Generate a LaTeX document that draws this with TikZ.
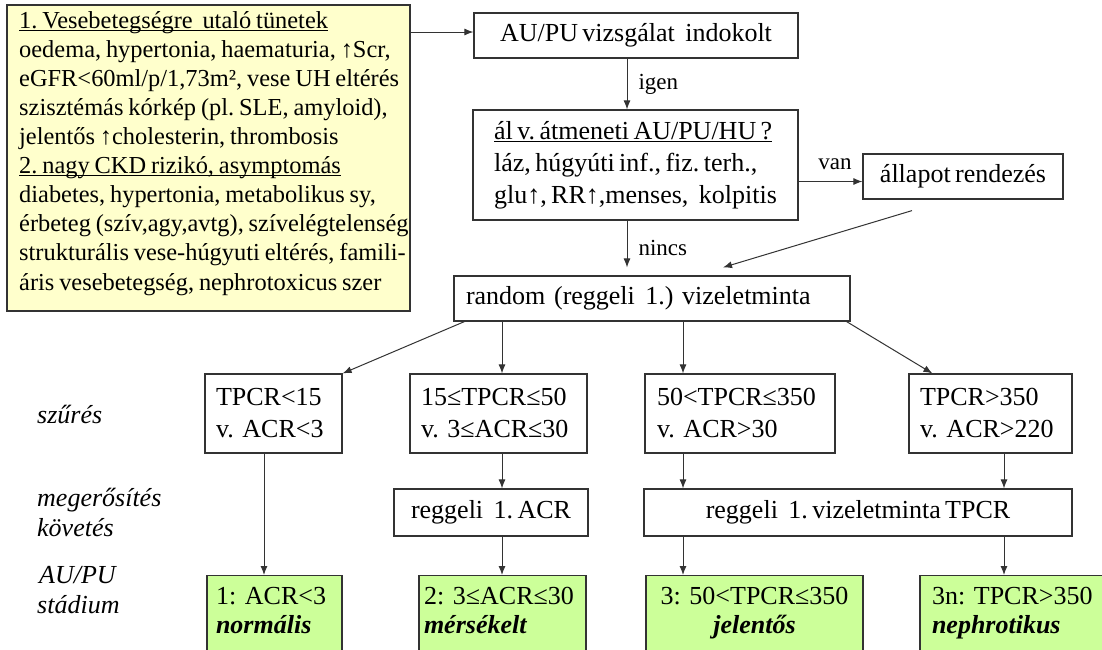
\documentclass[tikz,border=0pt]{standalone}
\usepackage{fontspec}
\setmainfont{Liberation Serif}
\usetikzlibrary{arrows.meta,calc}
\definecolor{yel}{HTML}{FFFFCC}
\definecolor{grn}{HTML}{CCFF99}
\definecolor{edge}{HTML}{333333}
\newcommand\fmain{\fontsize{26}{32}\selectfont\frenchspacing\spaceskip=0.17em\relax}
\newcommand\fgrn{\fontsize{26}{29}\selectfont\frenchspacing\spaceskip=0.17em\relax}
\newcommand\fyel{\fontsize{24.4}{29.1}\selectfont\frenchspacing\spaceskip=0.2em\relax}
\newcommand\flab{\fontsize{23}{27}\selectfont}
\newcommand\fside{\fontsize{26}{30}\selectfont\itshape}
\newcommand\uln[1]{\setbox0\hbox{#1}\rlap{\rule[-2.6pt]{\wd0}{1pt}}\box0}
\begin{document}
\begin{tikzpicture}[x=1pt,y=-1pt,
  box/.style={draw=edge, line width=1.2pt, fill=white, inner sep=0pt, font=\fmain},
  lbox/.style={box, align=left},
  gbox/.style={box, fill=grn, anchor=north, align=left, font=\fgrn, inner ysep=9pt},
  arr/.style={draw=edge, line width=1pt, -{Latex[length=9pt,width=7pt]}},
  lab/.style={font=\flab, inner sep=0pt},
  side/.style={font=\fside, inner sep=0pt, anchor=west, align=left}]
\useasboundingbox (0,0) rectangle (1102,649);
\fill[white] (0,0) rectangle (1102,649);
\begin{scope}
\clip (0,0) rectangle (1102,649);
% symptom box
\node[box, fill=yel, minimum width=403, minimum height=306] (sym) at (208.5,158) {};
\node[font=\fyel, anchor=north west, inner sep=0pt, align=left] (symt) at (19,11) {%
\uln{1. Vesebetegségre\hspace{0.4em}utaló tünetek}\\
oedema, hypertonia, haematuria, ↑Scr,\\
eGFR<60ml/p/1,73m², vese UH eltérés\\
szisztémás kórkép (pl. SLE, amyloid),\\
jelentős ↑cholesterin, thrombosis\\
\uln{2. nagy CKD rizikó, asymptomás}\\
diabetes, hypertonia, metabolikus sy,\\
érbeteg (szív,agy,avtg), szívelégtelenség\\
strukturális vese-húgyuti eltérés, famili-\\
áris vesebetegség, nephrotoxicus szer};
% flow boxes
\node[box, minimum width=324, minimum height=45] (au) at (636,35.5) {AU/PU vizsgálat\hspace{0.4em}indokolt};
\node[lbox, minimum width=325, minimum height=110] (al) at (635.5,165) {\uln{ál v. átmeneti AU/PU/HU ?}\\ láz, húgyúti inf., fiz. terh.,\\ glu↑, RR↑,menses,\hspace{0.4em}kolpitis};
\node[box, minimum width=200, minimum height=45] (all) at (963,176.5) {állapot rendezés};
\node[lbox, text width=372, minimum width=396, minimum height=45] (rnd) at (652,298.5) {random (reggeli\hspace{0.4em}1.) vizeletminta};
% screening row
\node[lbox, minimum width=137, text width=115, minimum height=79] (a) at (273.5,413.5) {TPCR<15\\ v. ACR<3};
\node[lbox, minimum width=177, text width=155, minimum height=79] (b) at (498.5,413.5) {15≤TPCR≤50\\ v. 3≤ACR≤30};
\node[lbox, minimum width=190, text width=166, minimum height=79] (c) at (740,413.5) {50<TPCR≤350\\ v. ACR>30};
\node[lbox, minimum width=163, text width=141, minimum height=79] (d) at (990.5,413.5) {TPCR>350\\ v. ACR>220};
% confirmation row
\node[box, minimum width=194, minimum height=47] (acr) at (491,512.5) {reggeli\hspace{0.4em}1. ACR};
\node[box, minimum width=428, minimum height=47] (tpcr) at (858,512.5) {reggeli\hspace{0.4em}1. vizeletminta TPCR};
% stage row
\node[gbox, minimum width=135, text width=117] (g1) at (274.5,575) {\strut 1: ACR<3\\ \textbf{\textit{normális}}\rule[-60pt]{0pt}{0pt}};
\node[gbox, minimum width=167, text width=157] (g2) at (502.5,575) {\strut 2: 3≤ACR≤30\\ \textbf{\textit{mérsékelt}}\rule[-60pt]{0pt}{0pt}};
\node[gbox, minimum width=217, text width=200, align=center] (g3) at (754.5,575) {\strut 3: 50<TPCR≤350\\ \textbf{\textit{jelentős}}\rule[-60pt]{0pt}{0pt}};
\node[gbox, minimum width=195, text width=171] (g4) at (1017.5,575) {\strut 3n: TPCR>350\\ \textbf{\textit{nephrotikus}}\rule[-60pt]{0pt}{0pt}};
\end{scope}
% side labels
\node[side] (s1) at (37,414) {szűrés};
\node[side] (s2) at (37,512) {megerősítés\\követés};
\node[side] (s3) at (37,590) {\hspace{2pt}AU/PU\\stádium};
% helper coordinates
\coordinate (xig) at (627,0);
\coordinate (xa) at (264,0);
\coordinate (xb) at (502,0);
\coordinate (xc) at (683,0);
\coordinate (xd) at (1004,0);
\coordinate (auin) at ([yshift=3.5pt]au.west);
\coordinate (vanend) at ($(all.west)+(0,5)$);
% connectors
\draw[arr] (sym.east |- auin) -- (auin);
\draw[arr] (au.south -| xig) -- (al.north -| xig) node[lab, midway, right=11pt] {igen};
\draw[arr] (al.east |- vanend) -- (vanend) node[lab, pos=0.57, above=11pt] {van};
\draw[arr, shorten >=8pt] (al.south -| xig) -- (rnd.north -| xig) node[lab, midway, right=11pt] {nincs};
\draw[arr] ($(all.south)+(-51,11)$) -- ($(rnd.north)+(71,-8)$);
\draw[arr] ($(rnd.south west)+(11,0)$) -- (a.north east);
\draw[arr] (rnd.south -| xb) -- (b.north -| xb);
\draw[arr] (rnd.south -| xc) -- (c.north -| xc);
\draw[arr] ($(rnd.south east)+(-4,0)$) -- ($(d.north west)+(24,0)$);
\draw[arr] (a.south -| xa) -- (g1.north -| xa);
\draw[arr] (b.south -| xb) -- (acr.north -| xb);
\draw[arr] (c.south -| xc) -- (tpcr.north -| xc);
\draw[arr] (d.south -| xd) -- (tpcr.north -| xd);
\draw[arr] (acr.south -| xb) -- (g2.north -| xb);
\draw[arr] (tpcr.south -| xc) -- (g3.north -| xc);
\draw[arr] (tpcr.south -| xd) -- (g4.north -| xd);
\end{tikzpicture}
\end{document}
